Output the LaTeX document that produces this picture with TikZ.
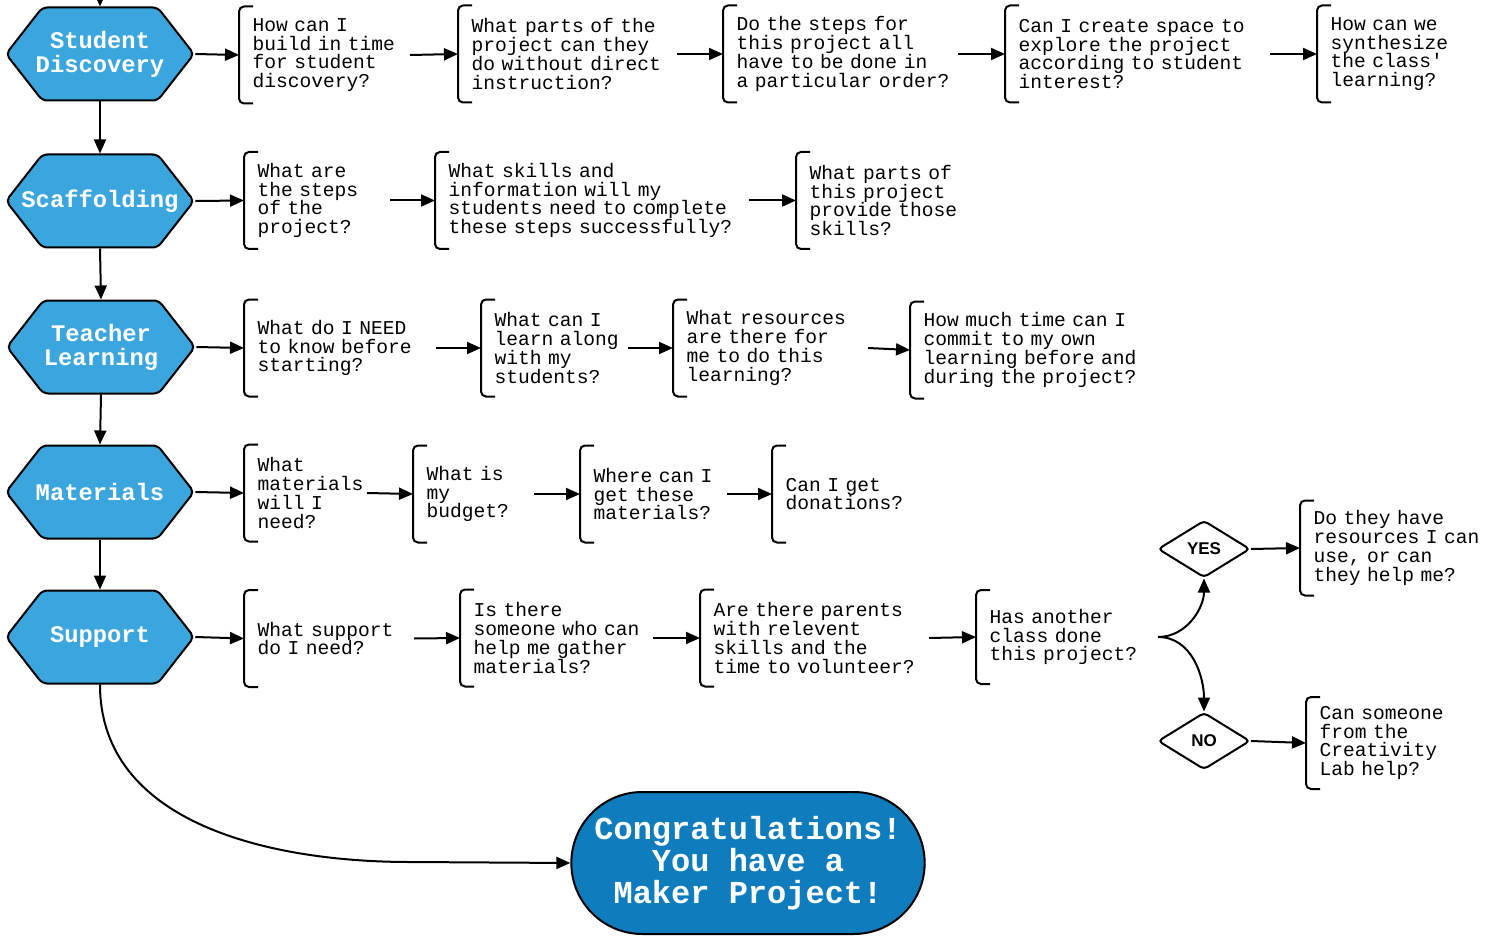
\documentclass[tikz,border=0pt]{standalone}
\usepackage{fontspec}
\usetikzlibrary{shapes.symbols,shapes.geometric,shapes.misc,arrows.meta}
\newfontfamily\monofam{Liberation Mono}
\newfontfamily\sansfam{Liberation Sans}
\definecolor{hexblue}{HTML}{3BA6DD}
\definecolor{goalblue}{HTML}{0F7DBD}
\begin{document}
\begin{tikzpicture}[
  x=1pt, y=-1pt, line width=2pt, >={Triangle[length=14pt,width=12pt]},
  hexa/.style = {signal, signal to=west and east, signal pointer angle=104,
    draw, fill=hexblue, rounded corners=5pt, inner xsep=-30pt,
    minimum width=188pt, minimum height=93pt,
    align=center, text=white, font=\monofam\bfseries\fontsize{23.8}{24}\selectfont},
  qbox/.style = {anchor=west, align=left, inner xsep=12.5pt, minimum height=95pt,
    execute at begin node={\rightskip=-80pt plus 1fil},
    font=\monofam\fontsize{19.6}{18.8}\selectfont},
  choice/.style = {diamond, draw, rounded corners=4pt, minimum width=92pt,
    minimum height=57pt, inner sep=0pt, font=\sansfam\bfseries\fontsize{17}{17}\selectfont},
  goal/.style = {rounded rectangle, draw, fill=goalblue, minimum width=360pt,
    minimum height=142pt, align=center, text=white,
    font=\monofam\bfseries\fontsize{32}{32}\selectfont},
  bracket/.style = {rounded corners=5pt}
  ]
  \useasboundingbox (0,0) rectangle (1492,936);

  \node[hexa] (sd) at (100,54) {Student\\Discovery};
  \node[hexa] (sc) at (100,201) {Scaffolding};
  \node[hexa] (tl) at (101,347) {Teacher\\Learning};
  \node[hexa] (ma) at (100,492) {Materials};
  \node[hexa] (su) at (100,637) {Support};

  \node[qbox, text width=144pt] (a1) at (239,55) {How can I\\build in time\\for student\\discovery?};
  \node[qbox, text width=192pt] (a2) at (458,54) {What parts of the\\project can they\\do without direct\\instruction?};
  \node[qbox, text width=208pt] (a3) at (723,54) {Do the steps for\\this project all\\have to be done in\\a particular order?};
  \node[qbox, text width=238pt] (a4) at (1005,54) {Can I create space to\\explore the project\\according to student\\interest?};
  \node[qbox, text width=125pt] (a5) at (1317,54) {How can we\\synthesize\\the class'\\learning?};

  \node[qbox, text width=119pt] (b1) at (244,200.5) {What are\\the steps\\of the\\project?};
  \node[qbox, text width=287pt] (b2) at (435,200.5) {What skills and\\information will my\\students need to complete\\these steps successfully?};
  \node[qbox, text width=145pt] (b3) at (796,200.5) {What parts of\\this project\\provide those\\skills?};

  \node[qbox, text width=165pt] (c1) at (244,348) {What do I NEED\\to know before\\starting?};
  \node[qbox, text width=120pt] (c2) at (481,348) {What can I\\learn along\\with my\\students?};
  \node[qbox, text width=168pt] (c3) at (673,348) {What resources\\are there for\\me to do this\\learning?};
  \node[qbox, text width=215pt] (c4) at (910,350) {How much time can I\\commit to my own\\learning before and\\during the project?};

  \node[qbox, text width=96pt] (d1) at (244,493) {What\\materials\\will I\\need?};
  \node[qbox, text width=94pt] (d2) at (413,494) {What is\\my\\budget?};
  \node[qbox, text width=120pt] (d3) at (580,494) {Where can I\\get these\\materials?};
  \node[qbox, text width=115pt] (d4) at (772,494) {Can I get\\donations?};

  \node[qbox, text width=143pt] (e1) at (244,638.5) {What support\\do I need?};
  \node[qbox, text width=166pt] (e2) at (460,638) {Is there\\someone who can\\help me gather\\materials?};
  \node[qbox, text width=202pt] (e3) at (700,638) {Are there parents\\with relevent\\skills and the\\time to volunteer?};
  \node[qbox, text width=155pt, minimum height=92pt] (e4) at (976,637) {Has another\\class done\\this project?};

  \node[choice] (yes) at (1204,549) {YES};
  \node[choice] (no) at (1204,741) {NO};
  \node[qbox, text width=170pt, minimum height=93pt] (f1) at (1300,548) {Do they have\\resources I can\\use, or can\\they help me?};
  \node[qbox, text width=125pt, minimum height=90pt] (g1) at (1306,743) {Can someone\\from the\\Creativity\\Lab help?};

  \node[goal] (fin) at (748,863) {Congratulations!\\You have a\\Maker Project!};

  \foreach \q in {a1,a2,a3,a4,a5,b1,b2,b3,c1,c2,c3,c4,d1,d2,d3,d4,e1,e2,e3,e4,f1,g1}
    \draw[bracket] ([xshift=14pt]\q.north west) -| (\q.south west) -- ++(14pt,0);

  \coordinate (entry) at (100,-20);
  \coordinate (bend) at (410,862);
  \draw[->] (entry) -- (sd.north);
  \draw[->] (sd.south) -- (sc.north);
  \draw[->] (sc.south) -- (tl.north);
  \draw[->] (tl.south) -- (ma.north);
  \draw[->] (ma.south) -- (su.north);

  \draw[->] (sd.east) -- (a1.west);
  \draw[->] (a1.east) -- (a2.west);
  \draw[->] (a2.east) -- (a3.west);
  \draw[->] (a3.east) -- (a4.west);
  \draw[->] (a4.east) -- (a5.west);
  \draw[->] (sc.east) -- (b1.west);
  \draw[->] (b1.east) -- (b2.west);
  \draw[->] (b2.east) -- (b3.west);
  \draw[->] (tl.east) -- (c1.west);
  \draw[->] (c1.east) -- (c2.west);
  \draw[->] (c2.east) -- (c3.west);
  \draw[->] (c3.east) -- (c4.west);
  \draw[->] (ma.east) -- (d1.west);
  \draw[->] (d1.east) -- (d2.west);
  \draw[->] (d2.east) -- (d3.west);
  \draw[->] (d3.east) -- (d4.west);
  \draw[->] (su.east) -- (e1.west);
  \draw[->] (e1.east) -- (e2.west);
  \draw[->] (e2.east) -- (e3.west);
  \draw[->] (e3.east) -- (e4.west);
  \draw[->] (e4.east) to[out=0,in=-90] (yes.south);
  \draw[->] (e4.east) to[out=0,in=90] (no.north);
  \draw[->] (yes.east) -- (f1.west);
  \draw[->] (no.east) -- (g1.west);
  \draw[->] (su.south) to[out=-90,in=180] (bend) -- (fin.west);
\end{tikzpicture}
\end{document}
